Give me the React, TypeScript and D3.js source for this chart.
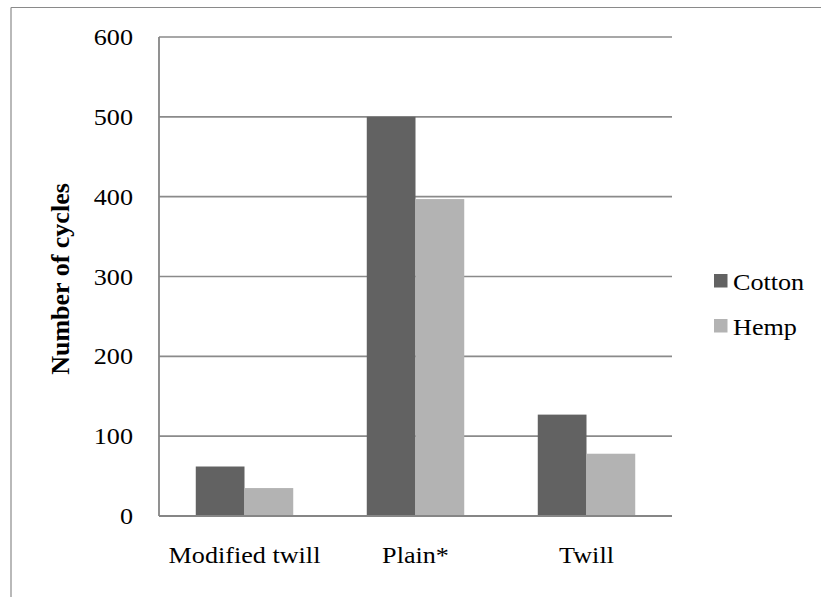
import React from "react";
import * as d3 from "d3";

const categories = ["Modified twill", "Plain*", "Twill"];
const seriesNames = ["Cotton", "Hemp"];
const cottonValues = [62, 500, 127];
const hempValues = [35, 397, 78];
const yTicks = [0, 100, 200, 300, 400, 500, 600];
const colors = ["#626262", "#b3b3b3"];

const W = 821;
const H = 597;
const plot = { left: 159, right: 672, top: 37, bottom: 516 };
const SX = 1.09;
const FONT = "Liberation Serif";

export default function App() {
  const x = d3
    .scaleBand<string>()
    .domain(categories)
    .range([plot.left, plot.right])
    .paddingInner(0.43)
    .paddingOuter(0.215);
  const xs = d3.scaleBand<string>().domain(seriesNames).range([0, x.bandwidth()]);
  const y = d3.scaleLinear().domain([0, 600]).range([plot.bottom, plot.top]);
  const series = [cottonValues, hempValues];

  const stretchText = (tx: number, ty: number, content: string, anchor: string, key?: string) => (
    <text
      key={key}
      transform={`translate(${tx},${ty}) scale(${SX},1)`}
      textAnchor={anchor}
      style={{ fontFamily: FONT, fontSize: "24px" }}
      fill="#000"
    >
      {content}
    </text>
  );

  return (
    <svg
      width={W}
      height={H}
      style={{ position: "absolute", left: 0, top: 0, background: "#fff" }}
    >
      <line x1={11} y1={7.5} x2={W} y2={7.5} stroke="#8a8a8a" strokeWidth={1.2} />
      <line x1={11} y1={7.5} x2={11} y2={H} stroke="#8a8a8a" strokeWidth={1.2} />

      {yTicks.filter((t) => t > 0).map((t) => (
        <line
          key={"g" + t}
          x1={plot.left}
          x2={plot.right}
          y1={y(t)}
          y2={y(t)}
          stroke="#8a8a8a"
          strokeWidth={1.6}
        />
      ))}

      {categories.map((c, i) =>
        seriesNames.map((s, j) => (
          <rect
            key={c + s}
            x={(x(c) as number) + (xs(s) as number)}
            y={y(series[j][i])}
            width={xs.bandwidth()}
            height={y(0) - y(series[j][i])}
            fill={colors[j]}
          />
        ))
      )}

      <line x1={plot.left} x2={plot.left} y1={plot.top} y2={plot.bottom} stroke="#868686" strokeWidth={1.8} />
      <line x1={plot.left} x2={plot.right} y1={plot.bottom} y2={plot.bottom} stroke="#868686" strokeWidth={1.8} />

      {yTicks.map((t) => stretchText(133, y(t) + 8, String(t), "end", "t" + t))}

      {categories.map((c) =>
        stretchText((x(c) as number) + x.bandwidth() / 2, 563, c, "middle", "c" + c)
      )}

      <text
        transform={`translate(69,279) rotate(-90)`}
        textAnchor="middle"
        style={{ fontFamily: FONT, fontSize: "26px", fontWeight: "bold" }}
        fill="#000"
      >
        Number of cycles
      </text>

      {seriesNames.map((s, j) => (
        <g key={"l" + s}>
          <rect x={714} y={274 + j * 45} width={13.5} height={13.5} fill={colors[j]} />
          {stretchText(733, 289.5 + j * 45, s, "start")}
        </g>
      ))}
    </svg>
  );
}
